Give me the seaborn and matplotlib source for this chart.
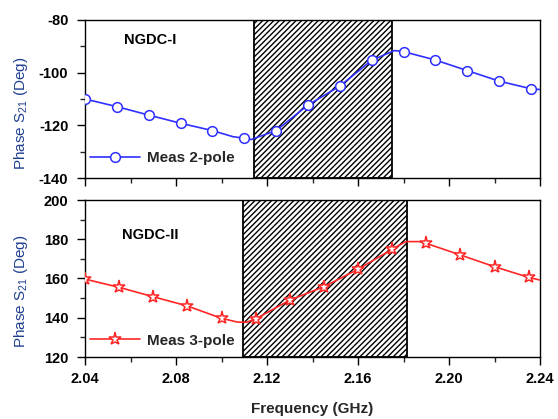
import matplotlib
matplotlib.use("Agg")
import matplotlib.pyplot as plt
import seaborn as sns
import numpy as np
from matplotlib.ticker import MultipleLocator

# ---- data ----
top_freq = [2.040, 2.054, 2.068, 2.082, 2.096, 2.105, 2.110, 2.113, 2.124, 2.138,
            2.152, 2.166, 2.176, 2.180, 2.194, 2.208, 2.222, 2.236, 2.240]
top_phase = [-110.0, -112.9, -116.1, -119.2, -122.0, -124.3, -124.9, -125.4, -122.0, -112.3,
             -105.1, -95.3, -91.6, -92.0, -95.2, -99.2, -103.2, -106.1, -106.4]
top_marker_freq = [2.040, 2.054, 2.068, 2.082, 2.096, 2.110, 2.124, 2.138,
                   2.152, 2.166, 2.180, 2.194, 2.208, 2.222, 2.236]

bot_freq = [2.040, 2.055, 2.070, 2.085, 2.100, 2.107, 2.111, 2.115, 2.130, 2.145,
            2.160, 2.175, 2.181, 2.187, 2.190, 2.205, 2.220, 2.235, 2.240]
bot_phase = [159.7, 155.5, 150.7, 146.0, 139.7, 137.8, 137.7, 139.4, 149.0, 155.8,
             164.7, 174.9, 178.8, 178.8, 177.9, 172.0, 166.0, 160.6, 159.2]
bot_marker_freq = [2.040, 2.055, 2.070, 2.085, 2.100, 2.115, 2.130, 2.145,
                   2.160, 2.175, 2.190, 2.205, 2.220, 2.235]

top_band = (2.1144, 2.1748)
bot_band = (2.1093, 2.1814)

top_label = "Meas 2-pole"
bot_label = "Meas 3-pole"
top_title = "NGDC-I"
bot_title = "NGDC-II"
x_tick_labels = ["2.04", "2.08", "2.12", "2.16", "2.20", "2.24"]

# ---- style ----
sns.set_style("ticks")
plt.rcParams["font.family"] = ["Liberation Sans", "DejaVu Sans"]
plt.rcParams["axes.unicode_minus"] = False
plt.rcParams["hatch.linewidth"] = 1.0
plt.rcParams["hatch.color"] = "black"

blue = "#2f2fff"
red = "#ff2626"
lab_color = "#1f3f8f"

fig = plt.figure(figsize=(5.58, 4.19), dpi=100)
W, H = 558, 419
ax_top = fig.add_axes([85 / W, 1 - 178 / H, 455 / W, 158 / H])
ax_bot = fig.add_axes([85 / W, 1 - 357 / H, 455 / W, 157 / H])

x_tick_vals = [float(s) for s in x_tick_labels]


def panel(ax, freq, phase, mfreq, band, color, marker, msize, label, title, ylim, ymaj, title_y, leg_y, lab_y):
    ax.axvspan(band[0], band[1], facecolor="white", edgecolor="black",
               hatch="//////", linewidth=1.3, zorder=1)
    idx = [i for i, f in enumerate(freq) if any(abs(f - m) < 1e-9 for m in mfreq)]
    sns.lineplot(x=np.array(freq), y=np.array(phase), ax=ax, color=color, linewidth=1.2,
                 marker=marker, markevery=idx, markersize=msize, markerfacecolor="white",
                 markeredgecolor=color, markeredgewidth=1.1, label=label, zorder=3)
    ax.set_xticks(x_tick_vals, x_tick_labels)
    ax.xaxis.set_minor_locator(MultipleLocator(0.02))
    ax.set_xlim(2.04, 2.24)
    ax.yaxis.set_major_locator(MultipleLocator(ymaj))
    ax.yaxis.set_minor_locator(MultipleLocator(ymaj / 2))
    ax.set_ylim(*ylim)
    ax.tick_params(axis="both", which="major", direction="out", length=6, width=1.0,
                   labelsize=10.5, colors="black")
    ax.tick_params(axis="both", which="minor", direction="out", length=3.5, width=1.0)
    ax.tick_params(axis="y", which="major", pad=6)
    ax.tick_params(axis="x", which="major", pad=5)
    for t in ax.get_xticklabels() + ax.get_yticklabels():
        t.set_fontweight("bold")
    for s in ax.spines.values():
        s.set_visible(True)
        s.set_color("black")
        s.set_linewidth(1.0)
    ax.grid(False)
    ax.set_ylabel("Phase S$_{\\mathregular{21}}$ (Deg)", fontsize=11, color=lab_color)
    ax.yaxis.set_label_coords(-0.121, lab_y)
    ax.text(0.143, title_y, title, transform=ax.transAxes, ha="center", va="center",
            fontsize=10.5, fontweight="bold", color="black")
    ax.legend(loc="center left", bbox_to_anchor=(0.011, leg_y), frameon=False,
              borderpad=0, borderaxespad=0, handlelength=3.3, handletextpad=0.45,
              prop={"weight": "bold", "size": 11})


panel(ax_top, top_freq, top_phase, top_marker_freq, top_band, blue, "o", 7,
      top_label, top_title, (-140, -80), 20, (178 - 40) / 158, (178 - 158) / 158, 0.41)
panel(ax_bot, bot_freq, bot_phase, bot_marker_freq, bot_band, red, "*", 9.5,
      bot_label, bot_title, (120, 200), 20, (357 - 235) / 157, (357 - 340.7) / 157, 0.417)

ax_top.tick_params(axis="x", labelbottom=False)
ax_top.set_xlabel("")
ax_bot.set_xlabel("Frequency (GHz)", fontsize=11, fontweight="bold", labelpad=11)

fig.savefig("out.png", dpi=100)
